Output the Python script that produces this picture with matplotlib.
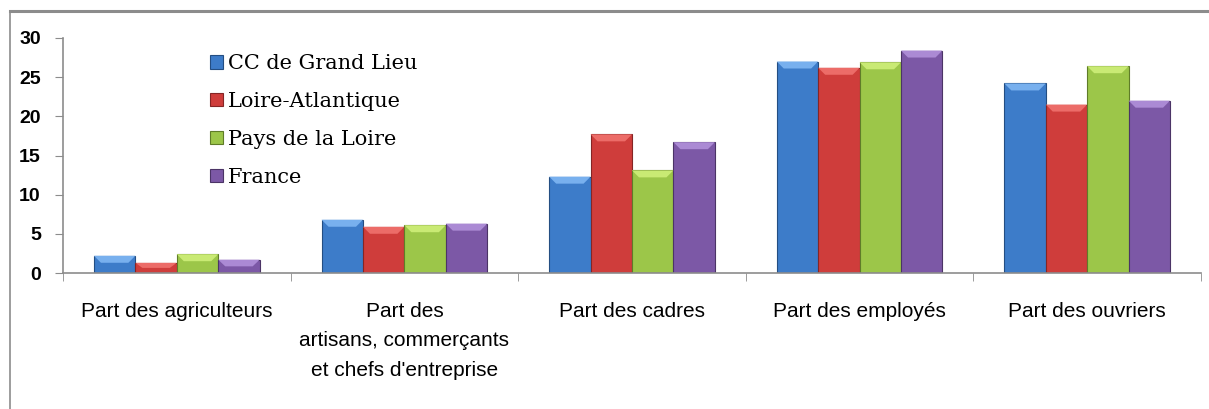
import matplotlib
matplotlib.use("Agg")
import matplotlib.pyplot as plt
from matplotlib.patches import Polygon
import numpy as np

categories = ["Part des agriculteurs",
              "Part des\nartisans, commerçants\net chefs d'entreprise",
              "Part des cadres", "Part des employés", "Part des ouvriers"]
series_names = ["CC de Grand Lieu", "Loire-Atlantique", "Pays de la Loire", "France"]
cc_grand_lieu = [2.2, 6.8, 12.3, 27.0, 24.2]
loire_atlantique = [1.3, 5.9, 17.7, 26.2, 21.5]
pays_de_la_loire = [2.4, 6.1, 13.1, 26.9, 26.4]
france = [1.7, 6.3, 16.7, 28.4, 22.0]
yticks = [0, 5, 10, 15, 20, 25, 30]

colors = ["#3d7cc9", "#cf3d3b", "#9cc649", "#7c58a6"]
tops = ["#78b0ee", "#ec6c68", "#c9ea74", "#ab8ad4"]
edges = ["#244e82", "#852525", "#5f7c28", "#4b3466"]

W, H = 1209, 409
fig = plt.figure(figsize=(W / 100, H / 100), dpi=100)
fig.add_artist(plt.Line2D([10/W, 1], [1-11/H, 1-11/H], color="#8c8c8c", lw=2.2, transform=fig.transFigure))
fig.add_artist(plt.Line2D([10/W, 10/W], [0, 1-11/H], color="#8c8c8c", lw=1.2, transform=fig.transFigure))

ax_l, ax_r, ax_t, ax_b = 63, 1201, 38, 273
ax = fig.add_axes([ax_l/W, (H-ax_b)/H, (ax_r-ax_l)/W, (ax_b-ax_t)/H])
data = [cc_grand_lieu, loire_atlantique, pays_de_la_loire, france]
x = np.arange(len(categories))
w = 0.182
ax.set_xlim(-0.5, len(categories) - 0.5)
ax.set_ylim(0, 30)

# pixel -> data scale for bevel decoration
px_x = len(categories) / (ax_r - ax_l)
px_y = 30 / (ax_b - ax_t)
for i, (vals, name) in enumerate(zip(data, series_names)):
    bars = ax.bar(x + (i - 1.5) * w, vals, w, color=colors[i], edgecolor=edges[i],
                  linewidth=0.8, label=name, zorder=2)
    for r in bars:
        x0, x1 = r.get_x(), r.get_x() + r.get_width()
        h = r.get_height()
        bh = min(7 * px_y, h / 2)
        bw = 7 * px_x
        ax.add_patch(Polygon([(x0, h), (x1, h), (x1 - bw, h - bh), (x0 + bw, h - bh)],
                             closed=True, facecolor=tops[i], edgecolor="none", zorder=3))

ax.set_yticks(yticks)
ax.set_yticklabels([str(t) for t in yticks], family="Liberation Sans", fontweight="bold", fontsize=14)
ax.set_xticks(x)
ax.set_xticklabels(categories, family="Liberation Sans", fontsize=15, linespacing=1.68)
ax.set_xticks(np.arange(-0.5, len(categories)), minor=True)
ax.tick_params(axis="x", which="major", length=0, pad=21)
ax.tick_params(axis="x", which="minor", length=6, color="#8c8c8c", direction="out")
ax.tick_params(axis="y", length=6, color="#8c8c8c", pad=10)
for s in ["top", "right"]:
    ax.spines[s].set_visible(False)
for s in ["left", "bottom"]:
    ax.spines[s].set_color("#8c8c8c")
    ax.spines[s].set_linewidth(1.2)

leg = ax.legend(loc="upper left", bbox_to_anchor=(139/1138, 1 - 8/235), frameon=False,
                prop={"family": "DejaVu Serif", "size": 15}, handlelength=0.6, handleheight=0.6,
                handletextpad=0.25, labelspacing=0.9, borderaxespad=0)

fig.savefig("out.png", dpi=100)
